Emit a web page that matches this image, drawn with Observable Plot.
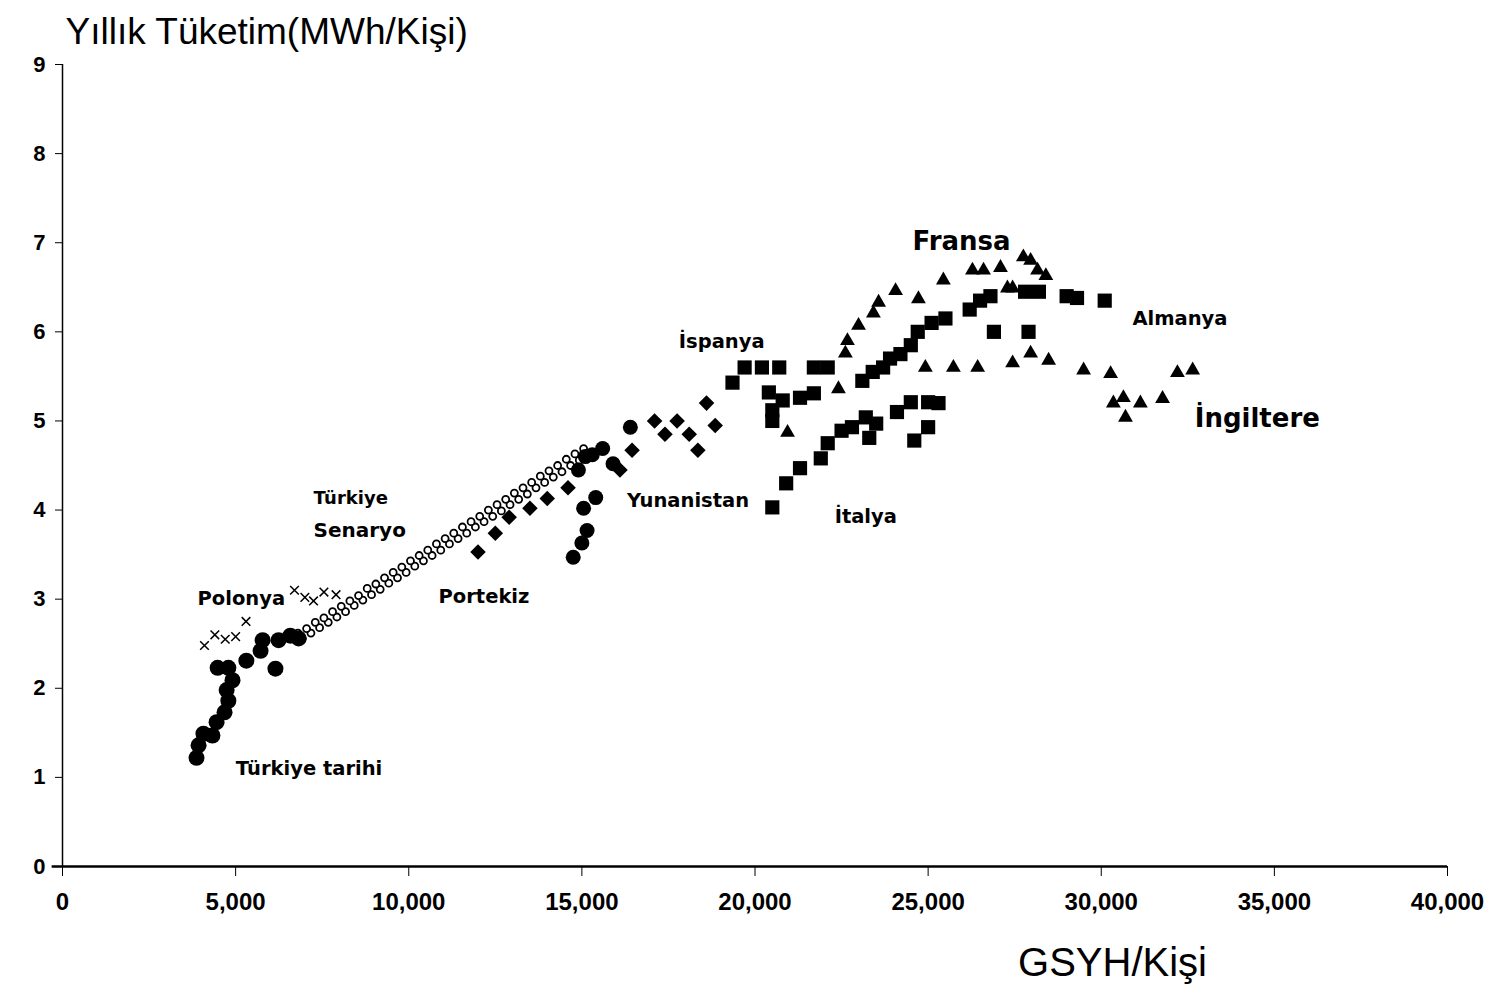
<!DOCTYPE html>
<html>
<head>
<meta charset="utf-8">
<script src="https://cdn.jsdelivr.net/npm/d3@7"></script>
<script src="https://cdn.jsdelivr.net/npm/@observablehq/plot@0.6"></script>
<style>
  html, body { margin: 0; padding: 0; background: #fff; }
  #chart svg { display: block; }
</style>
</head>
<body>
<div id="chart"></div>
<script>
// ---------- data (GSYH/Kişi, MWh/Kişi) ----------
const turkiyeTarihi = [[3870,1.22],[3930,1.36],[4070,1.49],[4330,1.47],[4450,1.62],[4680,1.73],[4790,1.86],[4740,1.98],[4910,2.09],[4480,2.23],[4790,2.23],[5310,2.31],[5720,2.42],[5780,2.54],[6150,2.22],[6240,2.54],[6580,2.59],[6820,2.56]];
const turkiyeSenaryoA = [[6800,2.62],[7050,2.67],[7300,2.74],[7550,2.79],[7800,2.86],[8050,2.92],[8300,2.98],[8550,3.04],[8800,3.12],[9050,3.17],[9300,3.24],[9550,3.30],[9800,3.36],[10050,3.43],[10300,3.49],[10550,3.55],[10800,3.62],[11050,3.68],[11300,3.74],[11550,3.81],[11800,3.87],[12050,3.93],[12300,4.00],[12550,4.06],[12800,4.12],[13050,4.19],[13300,4.25],[13550,4.31],[13800,4.38],[14050,4.44],[14300,4.50],[14550,4.57],[14800,4.63],[15050,4.69]];
const turkiyeSenaryoB = [[6925,2.56],[7175,2.62],[7425,2.68],[7675,2.74],[7925,2.80],[8175,2.86],[8425,2.93],[8675,2.99],[8925,3.05],[9175,3.11],[9425,3.18],[9675,3.24],[9925,3.30],[10175,3.37],[10425,3.43],[10675,3.49],[10925,3.55],[11175,3.62],[11425,3.68],[11675,3.74],[11925,3.81],[12175,3.87],[12425,3.93],[12675,3.99],[12925,4.06],[13175,4.12],[13425,4.18],[13675,4.25],[13925,4.31],[14175,4.37],[14425,4.43],[14675,4.50],[14925,4.56],[15175,4.62]];
const polonya = [[4100,2.48],[4400,2.60],[4700,2.55],[5000,2.58],[5300,2.75],[6700,3.10],[7000,3.02],[7250,2.98],[7550,3.08],[7900,3.05]];
const portekiz = [[12000,3.53],[12500,3.74],[12900,3.92],[13500,4.02],[14000,4.13],[14600,4.25],[16100,4.45],[16450,4.67],[17100,5.00],[17400,4.85],[17750,5.00],[18100,4.85],[18350,4.67],[18600,5.20],[18850,4.95]];
const yunanistan = [[14750,3.47],[15000,3.63],[15150,3.77],[15050,4.02],[15400,4.14],[14900,4.45],[15100,4.60],[15300,4.62],[15600,4.69],[15900,4.52],[16400,4.93]];
const ispanya = [[19350,5.43],[19700,5.60],[20200,5.60],[20700,5.60],[20400,5.32],[20500,5.12],[20500,5.00],[20800,5.23],[21300,5.26],[21700,5.31],[21700,5.60],[22100,5.60]];
const italya = [[20500,4.03],[20900,4.30],[21300,4.47],[21900,4.58],[22100,4.75],[22500,4.89],[22800,4.93],[23200,5.04],[23300,4.81],[23500,4.97],[24100,5.10],[24600,4.78],[24500,5.21],[25000,4.93],[25000,5.21],[25300,5.20]];
const almanya = [[23100,5.45],[23400,5.55],[23700,5.60],[23900,5.70],[24200,5.75],[24500,5.85],[24700,6.00],[25100,6.10],[25500,6.15],[26200,6.25],[26500,6.35],[26800,6.40],[26900,6.00],[27900,6.00],[27800,6.45],[28200,6.45],[29000,6.40],[29300,6.38],[30100,6.35]];
const fransa = [[22610,5.76],[22670,5.90],[22990,6.07],[23420,6.21],[23570,6.33],[24060,6.46],[24720,6.37],[25440,6.58],[26280,6.69],[26600,6.69],[27090,6.72],[27290,6.49],[27440,6.49],[27750,6.84],[27960,6.80],[28160,6.69],[28400,6.63]];
const ingiltere = [[20940,4.87],[22410,5.36],[24920,5.60],[25730,5.60],[26430,5.60],[27440,5.65],[27960,5.76],[28480,5.68],[29490,5.57],[30270,5.53],[30350,5.20],[30640,5.26],[30700,5.04],[31130,5.20],[31770,5.25],[32200,5.54],[32640,5.57]];

const xTicks = [0,5000,10000,15000,20000,25000,30000,35000,40000];
const yTicks = [0,1,2,3,4,5,6,7,8,9];

const labelNames = ["Türkiye","Senaryo","Polonya","Türkiye tarihi","Portekiz","Yunanistan","İspanya","İtalya","Fransa","Almanya","İngiltere"];
const labelX = [7250,7250,3900,5000,10860,16300,17800,22300,24550,30900,32700];
const labelY = [4.13,3.77,3.01,1.10,3.03,4.11,5.89,3.92,7.01,6.15,5.03];
const labelSize = [18,20,19.5,19.5,19.5,19.5,19.5,19.5,26,19.5,26];

// ---------- chart ----------
const toObj = a => a.map(([x,y]) => ({x,y}));
const labels = labelNames.map((t,i) => ({t, x:labelX[i], y:labelY[i], s:labelSize[i]}));

const chart = Plot.plot({
  width: 1499,
  height: 992,
  marginLeft: 62,
  marginRight: 52,
  marginTop: 64,
  marginBottom: 126,
  style: {fontFamily: "'Liberation Sans', Arial, sans-serif", background: "#fff", color: "#000", overflow: "visible"},
  x: {domain: [0, 40000]},
  y: {domain: [0, 9]},
  marks: [
    Plot.axisX({ticks: xTicks, tickFormat: d => d3.format(",")(d), tickSize: 10, tickPadding: 16, fontSize: 24, fontWeight: "bold", label: null}),
    Plot.axisY({ticks: yTicks, tickSize: 7, tickPadding: 10, fontSize: 22, fontWeight: "bold", label: null}),
    Plot.ruleY([0], {x1: -300, x2: 40000, strokeWidth: 2.5}),
    Plot.ruleX([0], {strokeWidth: 1.5}),
    Plot.dot(toObj(turkiyeSenaryoB), {x: "x", y: "y", symbol: "circle", r: 3.5, stroke: "#000", strokeWidth: 1.8, fill: "#fff"}),
    Plot.dot(toObj(turkiyeSenaryoA), {x: "x", y: "y", symbol: "circle", r: 3.5, stroke: "#000", strokeWidth: 1.8, fill: "#fff"}),
    Plot.dot(toObj(polonya), {x: "x", y: "y", symbol: "times", r: 4, stroke: "#000", strokeWidth: 1.5}),
    Plot.dot(toObj(turkiyeTarihi), {x: "x", y: "y", symbol: "circle", r: 8, fill: "#000"}),
    Plot.dot(toObj(portekiz), {x: "x", y: "y", symbol: "diamond2", r: 7, fill: "#000"}),
    Plot.dot(toObj(yunanistan), {x: "x", y: "y", symbol: "circle", r: 7.5, fill: "#000"}),
    Plot.dot(toObj(ispanya), {x: "x", y: "y", symbol: "square", r: 8, fill: "#000"}),
    Plot.dot(toObj(italya), {x: "x", y: "y", symbol: "square", r: 8, fill: "#000"}),
    Plot.dot(toObj(almanya), {x: "x", y: "y", symbol: "square", r: 8, fill: "#000"}),
    Plot.dot(toObj(fransa), {x: "x", y: "y", symbol: "triangle", r: 5.5, fill: "#000"}),
    Plot.dot(toObj(ingiltere), {x: "x", y: "y", symbol: "triangle", r: 5.5, fill: "#000"}),
    Plot.text(labels, {x: "x", y: "y", text: "t", fontSize: "s", fontWeight: "bold", fontFamily: "'DejaVu Sans', sans-serif", textAnchor: "start", lineAnchor: "middle", fill: "#000"}),
    Plot.text(["Yıllık Tüketim(MWh/Kişi)"], {frameAnchor: "top-left", dx: 3, dy: -32, fontSize: 37, textAnchor: "start", lineAnchor: "middle", fill: "#000"}),
    Plot.text(["GSYH/Kişi"], {frameAnchor: "bottom-right", dx: -335, dy: 97, fontSize: 40, textAnchor: "middle", lineAnchor: "middle", fill: "#000"})
  ]
});
document.getElementById("chart").append(chart);
</script>
</body>
</html>
